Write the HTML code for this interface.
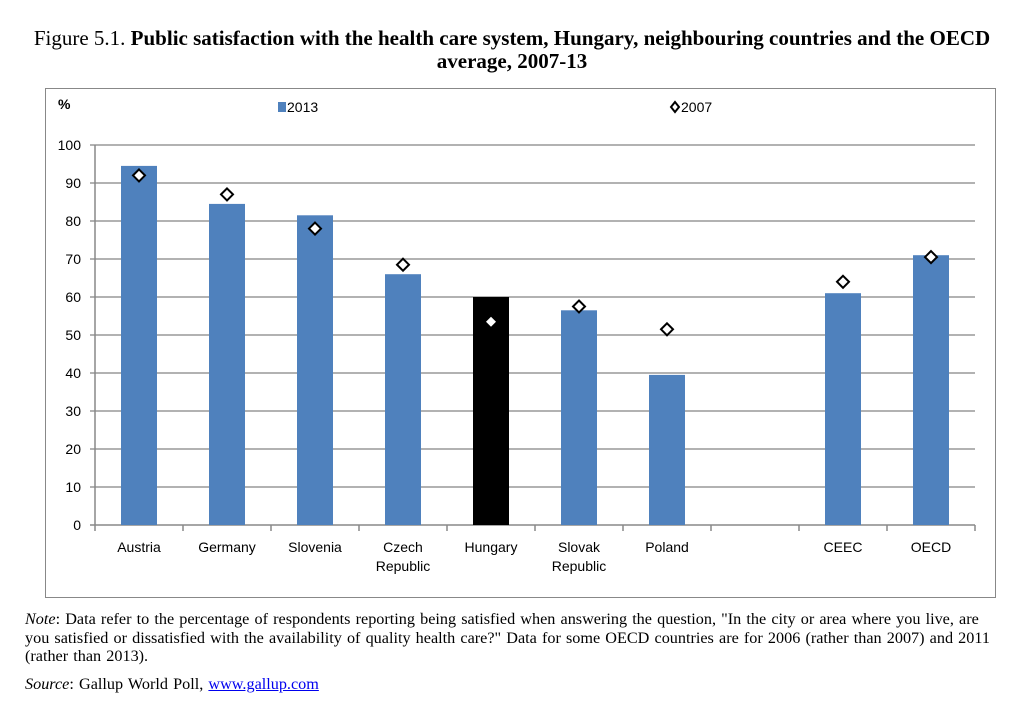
<!DOCTYPE html>
<html><head><meta charset="utf-8"><style>
body{margin:0;background:#fff;width:1024px;height:704px;overflow:hidden;position:relative;font-family:"Liberation Serif",serif;}
.t{position:absolute;left:20px;width:984px;text-align:center;font-size:21px;color:#000;line-height:23px}
.n{position:absolute;left:25px;width:990px;font-size:16.2px;line-height:18.5px;white-space:nowrap;word-spacing:1.1px}
</style></head><body>
<div class="t" style="top:27px">Figure 5.1. <b>Public satisfaction with the health care system, Hungary, neighbouring countries and the OECD average, 2007-13</b></div>
<svg id="c" width="1024" height="704" style="position:absolute;left:0;top:0">
<rect x="45.5" y="88.5" width="950" height="509" fill="none" stroke="#888"/>
</svg>
<div class="n" style="top:610px"><i>Note</i>: Data refer to the percentage of respondents reporting being satisfied when answering the question, "In the city or area where you live, are<br>you satisfied or dissatisfied with the availability of quality health care?" Data for some OECD countries are for 2006 (rather than 2007) and 2011<br>(rather than 2013).</div>
<div class="n" style="top:675px"><i>Source</i>: Gallup World Poll, <span style="color:#00e;text-decoration:underline">www.gallup.com</span></div>
<script>
const categories=[["Austria"],["Germany"],["Slovenia"],["Czech","Republic"],["Hungary"],["Slovak","Republic"],["Poland"],[""],["CEEC"],["OECD"]];
const values2013=[94.5,84.5,81.5,66,60,56.5,39.5,null,61,71];
const values2007=[92,87,78,68.5,53.5,57.5,51.5,null,64,70.5];
const ticks=[0,10,20,30,40,50,60,70,80,90,100];
const svg=document.getElementById('c');const NS='http://www.w3.org/2000/svg';
const x0=95,x1=975,y0=525,y1=145;
const slot=(x1-x0)/categories.length;
const xc=i=>x0+slot*(i+0.5);
const y=v=>y0-(v/100)*(y0-y1);
function mk(t,a){const e=document.createElementNS(NS,t);for(const k in a)e.setAttribute(k,a[k]);svg.appendChild(e);return e;}
ticks.forEach(v=>{
 const l=mk('line',{x1:x0-5,x2:x1,y1:y(v),y2:y(v),stroke:v===0?'#888':'#999','stroke-width':1.5});
 
 
 const t=mk('text',{x:x0-14,y:y(v)+5,'text-anchor':'end','font-size':14,'font-family':'Liberation Sans, sans-serif'});t.textContent=v;
 
 
});
const ax=mk('line',{x1:x0,x2:x0,y1:y1,y2:y0,stroke:'#888','stroke-width':1.5});


for(let i=0;i<=categories.length;i++){const tk=mk('line',{x1:x0+slot*i,x2:x0+slot*i,y1:y0,y2:y0+6,stroke:'#888','stroke-width':1.5});
 
 }
categories.forEach((c,i)=>{
 c.forEach((s,j)=>{if(!s)return;const t=mk('text',{x:xc(i),y:552+j*19,'text-anchor':'middle','font-size':14,'font-family':'Liberation Sans, sans-serif'});t.textContent=s;
 
 });
 const v=values2013[i];
 if(v!=null){const b=mk('rect',{x:xc(i)-18,y:y(v),width:36,height:y0-y(v),fill:c[0]==='Hungary'?'#000':'#4f81bd'});
 
 }
 const w=values2007[i];
 if(w!=null){const cx=xc(i),cy=y(w),h=c[0]==='Hungary'?5:6;
 const d=mk('polygon',{points:`${cx},${cy-h} ${cx+h},${cy} ${cx},${cy+h} ${cx-h},${cy}`,fill:'#fff',stroke:c[0]==='Hungary'?'none':'#000','stroke-width':2});
 
 }
});
const pc=mk('text',{x:58,y:109,'font-size':14,'font-weight':'bold','font-family':'Liberation Sans, sans-serif'});pc.textContent='%';


const ls=mk('rect',{x:278,y:102,width:8,height:10,fill:'#4f81bd'});


const lt=mk('text',{x:287,y:112,'font-size':14,'font-family':'Liberation Sans, sans-serif'});lt.textContent='2013';


const ld=mk('polygon',{points:'675,102 679,107 675,112 671,107',fill:'#fff',stroke:'#000','stroke-width':2});


const lt2=mk('text',{x:681,y:112,'font-size':14,'font-family':'Liberation Sans, sans-serif'});lt2.textContent='2007';


</script>
</body></html>
